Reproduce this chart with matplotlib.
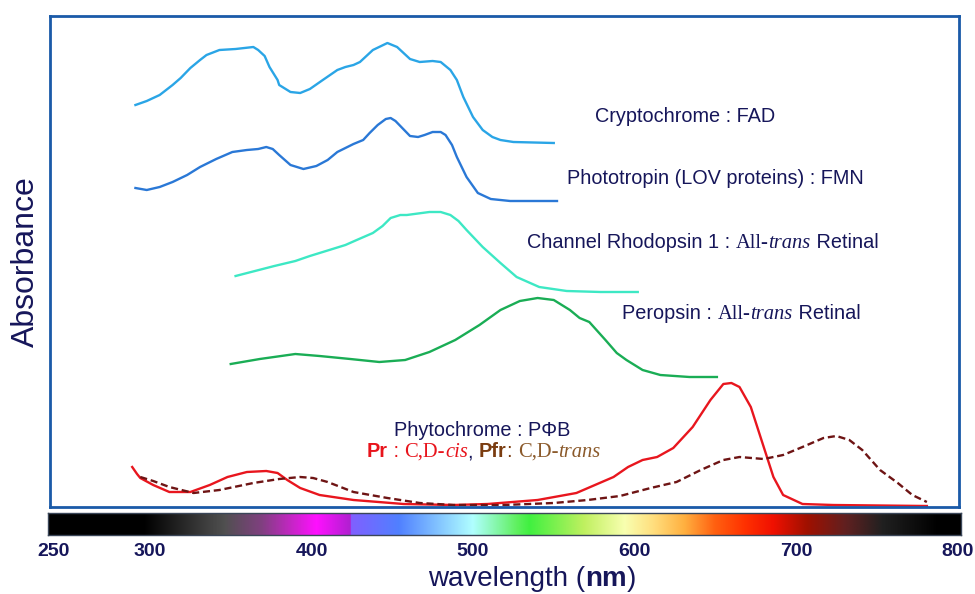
import matplotlib
matplotlib.use("Agg")
import matplotlib.pyplot as plt
import numpy as np
from matplotlib import font_manager
from matplotlib.transforms import IdentityTransform

# ---- data (wavelength nm, relative absorbance) ----
crypto_wl = [291, 298, 306, 314, 319, 325, 331, 335, 343, 353, 364, 367, 371, 374, 379, 380, 384, 387, 393,
             399, 407, 416, 421, 426, 430, 438, 447, 453, 461, 467, 475, 480, 486, 490, 494, 500, 506, 512,
             517, 525, 550]
crypto_abs = [402, 406, 412, 422, 429, 439, 447, 452, 457, 458, 460, 457, 451, 440, 427, 422, 418, 415, 414,
              418, 427, 437, 440, 442, 445, 457, 464, 460, 448, 445, 446, 445, 437, 427, 410, 390, 377, 370,
              367, 365, 364]

photo_wl = [291, 298, 306, 314, 323, 331, 341, 351, 360, 367, 372, 376, 380, 387, 395, 403, 410, 416, 426,
            432, 436, 441, 446, 449, 452, 455, 461, 466, 470, 475, 480, 483, 487, 490, 496, 503, 511, 523, 552]
photo_abs = [319, 317, 320, 325, 332, 340, 348, 355, 357, 358, 360, 358, 352, 342, 338, 341, 347, 355, 363,
             367, 374, 382, 388, 389, 386, 381, 371, 370, 372, 375, 375, 372, 362, 350, 330, 314, 308, 306, 306]

chr_wl = [353, 365, 377, 390, 399, 411, 421, 428, 438, 444, 449, 455, 459, 473, 480, 486, 491, 496, 506,
          517, 527, 541, 558, 579, 602]
chr_abs = [231, 236, 241, 246, 251, 257, 262, 267, 274, 281, 289, 292, 292, 295, 295, 292, 286, 277, 260,
           244, 230, 220, 216, 215, 215]

pero_wl = [350, 368, 390, 405, 424, 442, 458, 473, 489, 504, 517, 529, 540, 550, 560, 566, 572, 582, 589,
           595, 605, 616, 634, 651]
pero_abs = [143, 148, 153, 151, 148, 145, 147, 155, 167, 182, 197, 206, 209, 207, 197, 189, 185, 167, 154,
            147, 137, 132, 130, 130]

pr_wl = [289, 292, 294, 302, 312, 325, 337, 348, 360, 372, 379, 385, 393, 405, 426, 457, 488, 509, 540,
         564, 587, 596, 605, 614, 624, 636, 647, 655, 660, 665, 672, 680, 686, 692, 704, 723, 781]
pr_abs = [40, 33, 29, 22, 15, 15, 22, 30, 35, 36, 34, 27, 19, 12, 7, 3, 2, 3, 7,
          14, 30, 40, 47, 50, 59, 80, 107, 123, 124, 120, 100, 60, 30, 12, 3, 2, 1]

pfr_wl = [294, 302, 312, 327, 343, 364, 380, 393, 401, 410, 426, 447, 467, 488, 519, 550, 571, 591, 610,
          626, 641, 655, 665, 680, 692, 704, 717, 725, 733, 741, 752, 763, 772, 781]
pfr_abs = [30, 26, 20, 14, 17, 24, 28, 30, 29, 25, 15, 9, 4, 2, 2, 4, 7, 11, 19,
           25, 37, 47, 50, 48, 52, 60, 69, 71, 67, 57, 37, 24, 12, 5]

# visible spectrum strip (wavelength, colour)
spec_wl = [236, 296, 346, 369, 403, 424, 424.5, 454, 477, 500, 527, 535, 569, 594, 611, 631, 650, 669,
           686, 707, 731, 754, 788, 803]
spec_col = ['#000000', '#000000', '#505050', '#804080', '#ff10ff', '#b020d0', '#8060ff', '#5080ff',
            '#80c0ff', '#b0ffff', '#60f060', '#40f040', '#c0f060', '#f8ffb0', '#ffe080', '#ffb040',
            '#ff6010', '#ff3000', '#f01000', '#a01000', '#602020', '#202020', '#000000', '#000000']

tick_vals = [250, 300, 400, 500, 600, 700, 800]

navy = '#16165a'
names = set(f.name for f in font_manager.fontManager.ttflist)
narrow = 'Liberation Sans Narrow' if 'Liberation Sans Narrow' in names else 'Liberation Sans'
sans = 'Liberation Sans'
serif = 'Liberation Serif'

W, H = 975, 594
fig = plt.figure(figsize=(W / 100, H / 100), dpi=100)

# main frame
x_lo, x_hi = 238.1, 800.9
ax = fig.add_axes([50 / W, 1 - 507 / H, (959 - 50) / W, (507 - 16) / H])
ax.set_xlim(x_lo, x_hi)
ax.set_ylim(0, 491)
ax.set_xticks([])
ax.set_yticks([])
for s in ax.spines.values():
    s.set_color('#1a5aa8')
    s.set_linewidth(2)

lw = 1.7
ax.plot(crypto_wl, crypto_abs, color='#2aa5e6', lw=lw, solid_joinstyle='round')
ax.plot(photo_wl, photo_abs, color='#2a78d6', lw=lw, solid_joinstyle='round')
ax.plot(chr_wl, chr_abs, color='#3de8c4', lw=lw, solid_joinstyle='round')
ax.plot(pero_wl, pero_abs, color='#1aad55', lw=lw, solid_joinstyle='round')
ax.plot(pr_wl, pr_abs, color='#e8161e', lw=lw, solid_joinstyle='round')
ax.plot(pfr_wl, pfr_abs, color='#6e1414', lw=lw, ls=(0, (3, 1.6)))

ax.text(-0.027, 0.5, 'Absorbance', rotation=90, transform=ax.transAxes, ha='center', va='center',
        fontsize=23, color=navy, family=sans)

renderer = fig.canvas.get_renderer()


def piece_width(s, kw):
    a = fig.text(0, 0, '|' + s + '|', **kw)
    b = fig.text(0, 0, '||', **kw)
    w = a.get_window_extent(renderer).width - b.get_window_extent(renderer).width
    a.remove()
    b.remove()
    return w


def rich_px(px, py, pieces):
    for s, kw in pieces:
        fig.text(px, py, s, transform=IdentityTransform(), ha='left', va='baseline', **kw)
        px += piece_width(s, kw)


def rich(x, y, pieces):
    px, py = ax.transData.transform((x, y))
    rich_px(px, py, pieces)


fs = 14.3
nv = dict(color=navy, family=sans, fontsize=fs)
nv_serif = dict(color=navy, family=serif, fontsize=fs + 0.5)
nv_it = dict(color=navy, family=serif, style='italic', fontsize=fs + 0.5)

rich(575.5, 385, [('Cryptochrome : FAD', nv)])
rich(558.2, 323, [('Phototropin (LOV proteins) : FMN', nv)])
rich(533.4, 259, [('Channel Rhodopsin 1 : ', nv), ('All-', nv_serif), ('trans', nv_it), (' Retinal', nv)])
rich(592.3, 188, [('Peropsin : ', nv), ('All-', nv_serif), ('trans', nv_it), (' Retinal', nv)])

fs2 = 14.3
rich(451.0, 71, [('Phytochrome : P\u03a6B', dict(color=navy, family=sans, fontsize=fs2))])

red = '#e8141c'
brown = '#7a3c10'
lbrown = '#8b5a2b'
rich(434.4, 50, [('Pr', dict(color=red, family=sans, weight='bold', fontsize=fs2)),
                 (' : ', dict(color=red, family=sans, fontsize=fs2)),
                 ('C,D-', dict(color=red, family=serif, fontsize=fs2 + 0.5)),
                 ('cis', dict(color=red, family=serif, style='italic', fontsize=fs2 + 0.5)),
                 (', ', dict(color=navy, family=sans, fontsize=fs2)),
                 ('Pfr', dict(color=brown, family=sans, weight='bold', fontsize=fs2)),
                 (': ', dict(color=brown, family=sans, fontsize=fs2)),
                 ('C,D-', dict(color=lbrown, family=serif, fontsize=fs2 + 0.5)),
                 ('trans', dict(color=lbrown, family=serif, style='italic', fontsize=fs2 + 0.5))])

# spectrum strip
cb_lo, cb_hi = 236.8, 802.2
cax = fig.add_axes([48 / W, 1 - 535 / H, (961 - 48) / W, (535 - 513) / H])
grid = np.linspace(cb_lo, cb_hi, 1200)
rgb = np.array([matplotlib.colors.to_rgb(c) for c in spec_col])
img = np.stack([np.interp(grid, spec_wl, rgb[:, k]) for k in range(3)], axis=-1)[None, :, :]
cax.imshow(img, extent=(cb_lo, cb_hi, 0, 1), aspect='auto', interpolation='bilinear')
cax.set_xlim(cb_lo, cb_hi)
cax.set_yticks([])
cax.set_xticks(tick_vals)
cax.set_xticklabels([str(v) for v in tick_vals])
cax.tick_params(axis='x', length=0, pad=6, labelsize=14, labelcolor=navy)
for lab in cax.get_xticklabels():
    lab.set_family(narrow)
    lab.set_weight('bold')
cax.get_xticklabels()[0].set_horizontalalignment('right')
for s in cax.spines.values():
    s.set_color('#3a4658')
    s.set_linewidth(1)

# x label: "wavelength (nm)" with bold unit
xl_fs = 20
rich_px(428, H - 586, [('wavelength (', dict(color=navy, family=sans, fontsize=xl_fs)),
                       ('nm', dict(color=navy, family=sans, weight='bold', fontsize=xl_fs)),
                       (')', dict(color=navy, family=sans, fontsize=xl_fs))])

fig.savefig('out.png', dpi=100)
